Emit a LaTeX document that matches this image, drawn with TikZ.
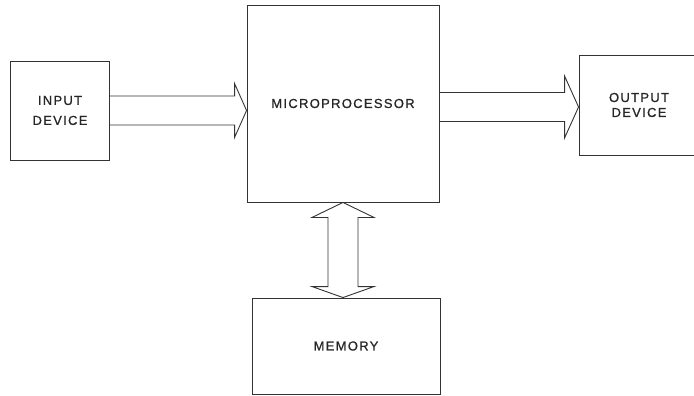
\documentclass[tikz,border=0pt]{standalone}
\usepackage{fontspec}
\setmainfont{Liberation Sans}
\newfontfamily\lblfont[LetterSpace=10,FakeBold=0.8]{Liberation Sans}
\usetikzlibrary{calc}
\begin{document}
\begin{tikzpicture}[x=1pt,y=-1pt,
  box/.style={draw=black!80, line width=0.9pt, inner sep=0pt, align=center, text=black!85,
    font=\lblfont\fontsize{13}{20}\selectfont},
  blk/.style={draw=black!80, line width=0.9pt, line join=miter}]
\useasboundingbox (0,0) rectangle (694,396);
\node[box, minimum width=99pt, minimum height=99pt] (in) at (60,110.5) {INPUT\\DEVICE};
\node[box, minimum width=192pt, minimum height=197pt] (mp) at (343,103.5) {MICROPROCESSOR};
\node[box, minimum width=120pt, minimum height=100pt, font=\lblfont\fontsize{13}{15}\selectfont] (out) at (639,105) {OUTPUT\\DEVICE};
\node[box, minimum width=188pt, minimum height=96pt] (mem) at (346,346) {MEMORY};
% input arrow
\coordinate (itip) at (mp.west |- in.east);
\draw[blk] ($(in.east)+(0,-14.5)$) -- ($(itip)+(-12,-14.5)$) -- ($(itip)+(-12,-27)$) -- (itip)
  -- ($(itip)+(-12,27)$) -- ($(itip)+(-12,14.5)$) -- ($(in.east)+(0,14.5)$);
% output arrow
\coordinate (otip) at ($(out.west)+(0,2)$);
\draw[blk] ($(mp.east|-otip)+(0,-14.5)$) -- ($(otip)+(-14,-14.5)$) -- ($(otip)+(-14,-31)$) -- (otip)
  -- ($(otip)+(-14,31)$) -- ($(otip)+(-14,14.5)$) -- ($(mp.east|-otip)+(0,14.5)$);
% memory double arrow
\coordinate (mt) at (mp.south);
\coordinate (mb) at (mp.south |- mem.north);
\draw[blk] (mt) -- ($(mt)+(31,15)$) -- ($(mt)+(15,15)$) -- ($(mb)+(15,-11)$) -- ($(mb)+(31,-11)$)
  -- (mb) -- ($(mb)+(-31,-11)$) -- ($(mb)+(-15,-11)$) -- ($(mt)+(-15,15)$) -- ($(mt)+(-31,15)$) -- cycle;
\end{tikzpicture}
\end{document}
